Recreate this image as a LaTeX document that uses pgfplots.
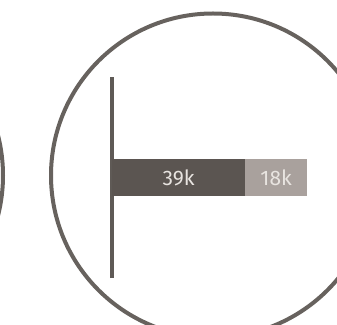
\documentclass[border=0pt]{standalone}
\usepackage{pgfplots}
\pgfplotsset{compat=1.18}
\usepackage{fontspec}
\setmainfont{Fira Sans}
\definecolor{circc}{HTML}{67625E}
\definecolor{linec}{HTML}{5F5A56}
\definecolor{darkc}{HTML}{5B5551}
\definecolor{lightc}{HTML}{A9A19D}
\definecolor{textc}{HTML}{E8E4E0}
\begin{document}
\begin{tikzpicture}
\useasboundingbox (0,0) rectangle (337pt,324pt);
\clip (0,0) rectangle (337pt,324pt);
\draw[circc, line width=4pt] (213pt,148.5pt) circle (162pt);
\draw[circc, line width=4pt] (-159pt,148.5pt) circle (162pt);
\begin{axis}[
  at={(112pt,46pt)}, anchor=south west,
  scale only axis, width=205.2pt, height=201pt,
  xmin=0, xmax=60, ymin=-1, ymax=1,
  xbar stacked, bar width=37.7pt,
  axis x line=none, axis y line=left,
  axis line style={-, line width=4.5pt, color=linec},
  ytick=\empty, xtick=\empty, clip=false,
]
\addplot[fill=darkc, draw=none] coordinates {(39,0)};
\addplot[fill=lightc, draw=none] coordinates {(18,0)};
\coordinate (l1) at (axis cs:19.5,0);
\coordinate (l2) at (axis cs:48,0);
\end{axis}
\node[text=textc, font=\fontsize{21}{21}\selectfont] at (l1) {39k};
\node[text=textc, font=\fontsize{21}{21}\selectfont] at (l2) {18k};
\end{tikzpicture}
\end{document}
